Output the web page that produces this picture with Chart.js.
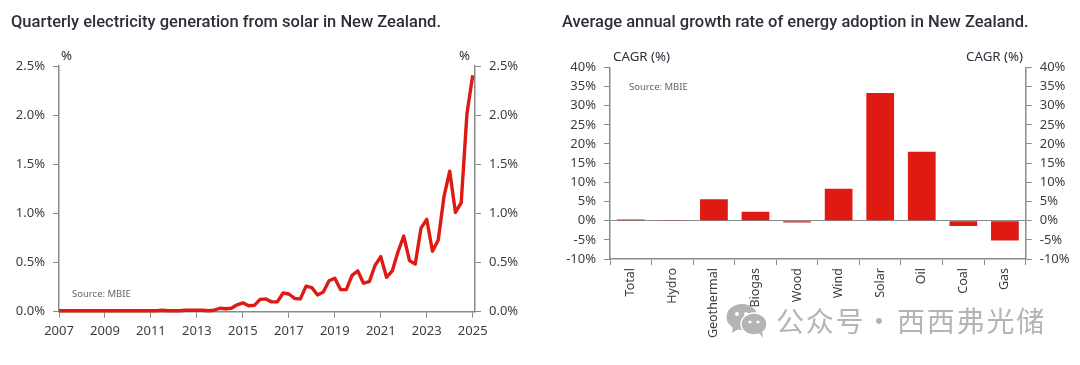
<!DOCTYPE html>
<html>
<head>
<meta charset="utf-8">
<script src="https://cdn.jsdelivr.net/npm/chart.js@4"></script>
<style>
  html, body { margin: 0; padding: 0; background: #fff; }
  #page { position: relative; width: 1080px; height: 365px; overflow: hidden; font-family: "Noto Sans", sans-serif; color: #2b2f38; }
  canvas { position: absolute; top: 0; }
  .txt { position: absolute; white-space: nowrap; }
  .title { font-family: Roboto, sans-serif; font-size: 16.5px; font-weight: 500; top: 12px; }
  .unit { font-size: 13.3px; }
  .src { font-size: 9.5px; color: #666; }
  .mark { font-family: "Noto Sans CJK SC", sans-serif; font-size: 28px; color: #b4b4b4; letter-spacing: 1.8px; top: 300px; }
</style>
</head>
<body>
<div id="page">
  <canvas id="solarChart" width="540" height="365" style="left:0;width:540px;height:365px"></canvas>
  <canvas id="cagrChart" width="540" height="365" style="left:540px;width:540px;height:365px"></canvas>

  <div class="txt title" style="left:11px">Quarterly electricity generation from solar in New Zealand.</div>
  <div class="txt title" style="left:562px">Average annual growth rate of energy adoption in New Zealand.</div>
  <div class="txt unit" style="left:61px;top:46px">%</div>
  <div class="txt unit" style="left:459px;top:46px">%</div>
  <div class="txt unit" style="left:613px;top:47px">CAGR (%)</div>
  <div class="txt unit" style="left:966px;top:47px">CAGR (%)</div>
  <div class="txt src" style="left:72px;top:287px">Source: MBIE</div>
  <div class="txt src" style="left:629px;top:80px">Source: MBIE</div>

  <svg style="position:absolute;left:726px;top:304px" width="42" height="34" viewBox="0 0 42 34">
    <ellipse cx="16" cy="13" rx="15.5" ry="13" fill="#b4b4b4"/>
    <path d="M7 22 L6 29 L14 24 Z" fill="#b4b4b4"/>
    <ellipse cx="28" cy="20" rx="13" ry="11" fill="#b4b4b4" stroke="#fff" stroke-width="1.5"/>
    <path d="M33 29 L37 34 L36 26 Z" fill="#b4b4b4"/>
    <circle cx="11" cy="10" r="2" fill="#fff"/><circle cx="20" cy="10" r="2" fill="#fff"/>
    <circle cx="24" cy="18" r="1.6" fill="#fff"/><circle cx="32" cy="18" r="1.6" fill="#fff"/>
  </svg>
  <div class="txt mark" style="left:776px">公众号</div>
  <div class="txt mark" style="left:865px">·</div>
  <div class="txt mark" style="left:897px">西西弗光储</div>
</div>

<script>
// Quarterly solar share of generation (%), 2007 Q1 to 2025 Q1
const solarShare = [
  0.01, 0.01, 0.01, 0.01, 0.01, 0.01, 0.01, 0.01,
  0.01, 0.01, 0.01, 0.01, 0.01, 0.01, 0.01, 0.01,
  0.01, 0.01, 0.015, 0.01, 0.01, 0.01, 0.015, 0.015,
  0.015, 0.015, 0.01, 0.015, 0.035, 0.03, 0.035, 0.07,
  0.09, 0.06, 0.065, 0.125, 0.13, 0.10, 0.10, 0.19,
  0.18, 0.135, 0.13, 0.26, 0.245, 0.17, 0.20, 0.315,
  0.34, 0.225, 0.225, 0.37, 0.415, 0.29, 0.305, 0.47,
  0.56, 0.35, 0.415, 0.61, 0.77, 0.52, 0.485, 0.85,
  0.94, 0.615, 0.73, 1.17, 1.43, 1.01, 1.11, 2.015,
  2.405,
];
const tickYears = [2007, 2009, 2011, 2013, 2015, 2017, 2019, 2021, 2023, 2025];

// CAGR by energy source (%)
const sources = ["Total", "Hydro", "Geothermal", "Biogas", "Wood", "Wind", "Solar", "Oil", "Coal", "Gas"];
const cagr = [0.3, 0.15, 5.6, 2.3, -0.5, 8.3, 33.3, 18, -1.4, -5.2];

const RED = "#de1a13";
const AXIS = "#8a8a8a";
const TEXT = "#3a3d45";
const tickFont = { family: "'Noto Sans', sans-serif", size: 13 };

function fixWidth(w) {
  return function (scale) { scale.width = w; };
}
function fixHeight(h) {
  return function (scale) { scale.height = h; };
}

function yAxis(position, width, min, max, step, digits) {
  return {
    position: position,
    min: min,
    max: max,
    afterFit: fixWidth(width),
    border: { color: AXIS, width: 1.5 },
    grid: { drawOnChartArea: false, color: AXIS, tickLength: 6, lineWidth: 1 },
    ticks: {
      stepSize: step,
      padding: 8,
      color: TEXT,
      font: tickFont,
      callback: function (v) { return v.toFixed(digits) + "%"; },
    },
  };
}

new Chart(document.getElementById("solarChart"), {
  type: "line",
  data: {
    datasets: [
      {
        data: solarShare.map(function (v, i) { return { x: 2007 + i / 4, y: v }; }),
        borderColor: RED,
        borderWidth: 3.4,
        borderJoinStyle: "round",
        tension: 0,
        pointRadius: 0,
        clip: false,
      },
    ],
  },
  options: {
    responsive: false,
    animation: false,
    layout: { padding: { top: 66 } },
    plugins: { legend: { display: false }, tooltip: { enabled: false } },
    scales: {
      x: {
        type: "linear",
        min: 2007,
        max: 2025.1,
        afterFit: fixHeight(53.3),
        afterBuildTicks: function (scale) {
          scale.ticks = tickYears.map(function (y) { return { value: y }; });
        },
        border: { color: AXIS, width: 1.5 },
        grid: { drawOnChartArea: false, color: AXIS, tickLength: 6 },
        ticks: {
          autoSkip: false,
          maxRotation: 0,
          padding: 6,
          color: TEXT,
          font: tickFont,
          callback: function (v) { return String(v); },
        },
      },
      y: yAxis("left", 59, 0, 2.5, 0.5, 1),
      y2: yAxis("right", 65, 0, 2.5, 0.5, 1),
    },
  },
});

new Chart(document.getElementById("cagrChart"), {
  type: "bar",
  data: {
    labels: sources,
    datasets: [
      {
        data: cagr,
        backgroundColor: RED,
        barPercentage: 0.667,
        categoryPercentage: 1,
      },
    ],
  },
  options: {
    responsive: false,
    animation: false,
    layout: { padding: { top: 67.3 } },
    plugins: { legend: { display: false }, tooltip: { enabled: false } },
    scales: {
      x: {
        afterFit: fixHeight(106),
        border: { color: AXIS, width: 1.5 },
        grid: { drawOnChartArea: false, color: AXIS, tickLength: 6 },
        ticks: {
          minRotation: 90,
          maxRotation: 90,
          padding: 3,
          color: TEXT,
          font: { family: "'Noto Sans', sans-serif", size: 12.5 },
        },
      },
      y: (function () {
        const axis = yAxis("left", 70, -10, 40, 5, 0);
        // only the zero grid line runs across the plot
        axis.grid = {
          tickLength: 6,
          tickColor: AXIS,
          color: function (ctx) { return ctx.tick && ctx.tick.value === 0 ? AXIS : "transparent"; },
        };
        return axis;
      })(),
      y2: yAxis("right", 54.3, -10, 40, 5, 0),
    },
  },
});
</script>
</body>
</html>
